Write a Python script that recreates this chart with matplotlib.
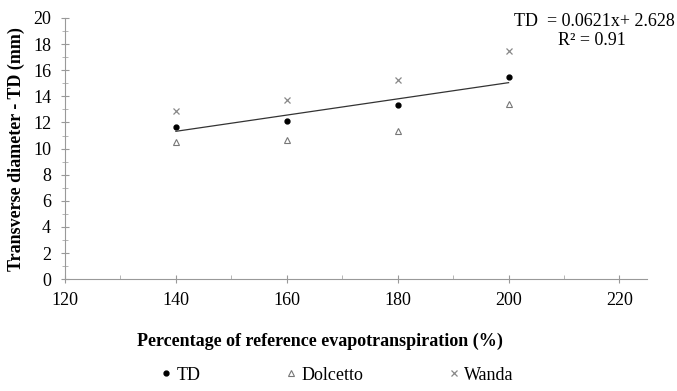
import matplotlib.pyplot as plt
from matplotlib.ticker import MultipleLocator

plt.rcParams['font.family'] = ['Liberation Serif', 'DejaVu Serif']

# данные
etp = [140, 160, 180, 200]
td = [11.67, 12.13, 13.31, 15.45]
dolcetto = [10.52, 10.63, 11.34, 13.39]
wanda = [12.85, 13.69, 15.25, 17.47]
slope, intercept = 0.0621, 2.628

fig = plt.figure(figsize=(6.77, 3.91), dpi=100)
ax = fig.add_axes([0.096, 0.286, 0.86, 0.668])

ax.plot(etp, td, 'o', color='black', markersize=3.5, label='TD')
ax.plot(etp, dolcetto, '^', color='#777777', markerfacecolor='none',
        markersize=4, markeredgewidth=0.8, label='Dolcetto')
ax.plot(etp, wanda, 'x', color='#888888', markersize=5, markeredgewidth=0.9,
        label='Wanda')

# линия тренда
fit = [slope * x + intercept for x in etp]
ax.plot([etp[0], etp[-1]], [fit[0], fit[-1]], color='#333333', linewidth=0.9)

ax.text(1.048, 1.02, 'TD  = 0.0621x+ 2.628', transform=ax.transAxes,
        ha='right', va='top', fontsize=13)
ax.text(0.905, 0.948, 'R² = 0.91', transform=ax.transAxes,
        ha='center', va='top', fontsize=13)

ax.set_xlim(120, 225)
ax.set_ylim(0, 20)
ax.xaxis.set_major_locator(MultipleLocator(20))
ax.xaxis.set_minor_locator(MultipleLocator(10))
ax.yaxis.set_major_locator(MultipleLocator(2))
ax.yaxis.set_minor_locator(MultipleLocator(1))

for s in ['top', 'right']:
    ax.spines[s].set_visible(False)
for s in ['left', 'bottom']:
    ax.spines[s].set_color('#999999')
    ax.spines[s].set_linewidth(0.8)

ax.tick_params(which='major', direction='inout', length=6, color='#999999',
               labelsize=13)
ax.tick_params(axis='x', which='major', pad=6)
ax.tick_params(axis='y', which='major', pad=7)
ax.tick_params(which='minor', direction='inout', length=4, color='#aaaaaa')
ax.tick_params(axis='x', which='minor', direction='in', length=3)

ax.set_xlabel('Percentage of reference evapotranspiration (%)',
              fontsize=13, fontweight='bold', labelpad=17)
ax.xaxis.label.set_x(0.438)
ax.set_ylabel('Transverse diameter - TD (mm)', fontsize=13,
              fontweight='bold', labelpad=6)

fig.legend(loc='center', bbox_to_anchor=(336 / 677, 1 - 375 / 391), ncol=3,
           frameon=False, fontsize=13, columnspacing=4.6, handletextpad=0.1,
           handlelength=0.9)

fig.savefig('out.png', dpi=100)
